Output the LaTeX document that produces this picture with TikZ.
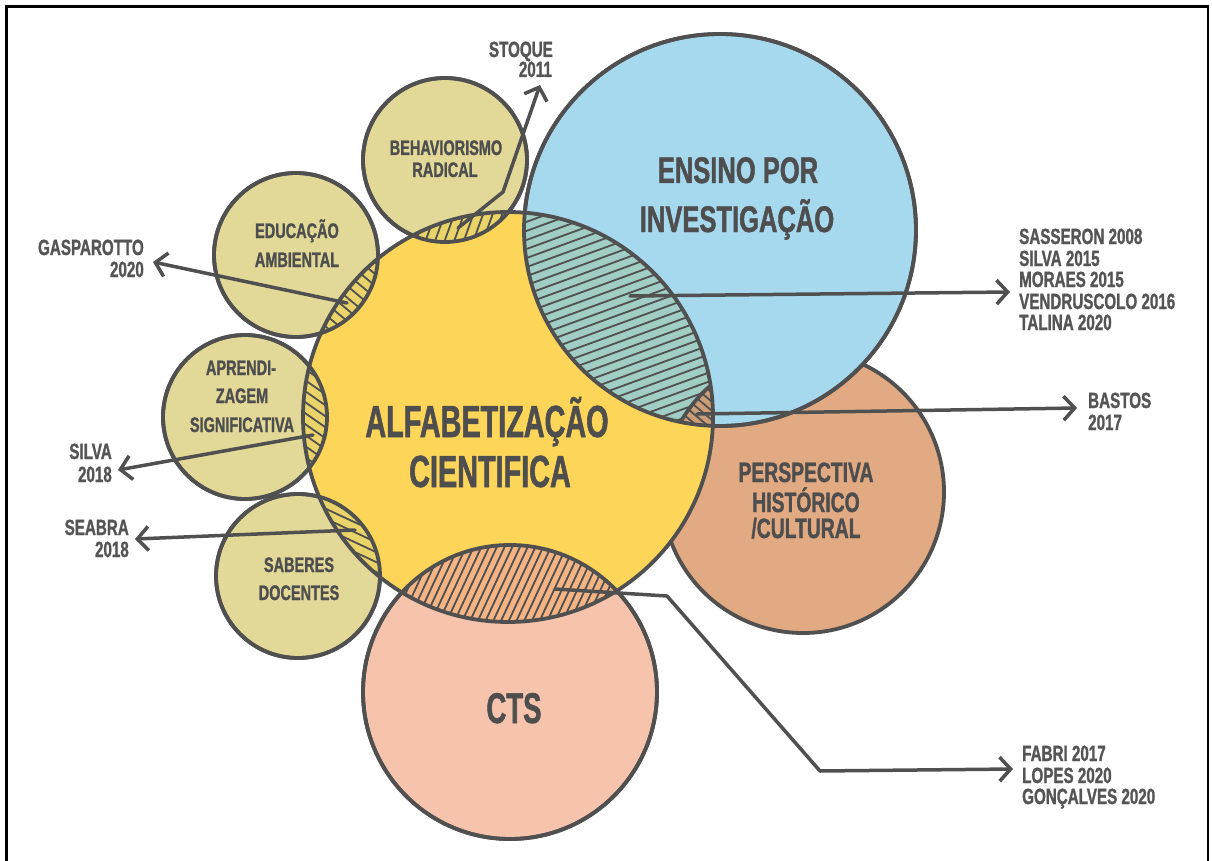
\documentclass[tikz,border=0pt]{standalone}
\usepackage{fontspec}
\newfontfamily\cf{Liberation Sans}[FakeStretch=0.64, FakeBold=1.2]
\newfontfamily\cfs{Liberation Sans}[FakeStretch=0.69, FakeBold=1.2]
\usetikzlibrary{arrows.meta}
\definecolor{outl}{RGB}{80,80,80}
\definecolor{txt}{RGB}{78,78,78}
\definecolor{reftxt}{RGB}{85,85,85}
\definecolor{yel}{RGB}{253,214,89}
\definecolor{beige}{RGB}{226,216,152}
\definecolor{sky}{RGB}{166,216,238}
\definecolor{persp}{RGB}{226,170,130}
\definecolor{ctsc}{RGB}{246,196,172}
\definecolor{lensy}{RGB}{234,212,105}
\definecolor{lensg}{RGB}{160,206,196}
\definecolor{lensc}{RGB}{244,180,132}
\definecolor{lensb}{RGB}{204,158,118}
\newcommand\hatchfill[6]{%
  \fill[#5] (#1-400,#2-400) rectangle (#1+400,#2+400);
  \foreach \i in {-50,...,50}{
    \draw[hl] ({#1+\i*#4*sin(#3)-#6*cos(#3)},{#2+\i*#4*cos(#3)+#6*sin(#3)}) -- ++({2*#6*cos(#3)},{-2*#6*sin(#3)});
  }}
\tikzset{
  circ/.style={draw=outl, line width=3.8pt},
  hl/.style={draw=outl, line width=1.8pt},
  arr/.style={draw=outl, line width=3.5pt, line cap=round, line join=round, -{Straight Barb[length=11pt,width=24pt]}},
  lab/.style={text=txt, inner sep=0pt, anchor=base},
  reflab/.style={text=reftxt, inner sep=0pt, font=\cfs\bfseries\fontsize{22}{22}\selectfont},
  hugefont/.style={font=\cf\bfseries\fontsize{45}{45}\selectfont},
  bigfont/.style={font=\cfs\bfseries\fontsize{37}{37}\selectfont},
  midfont/.style={font=\cfs\bfseries\fontsize{28}{28}\selectfont},
  smallfont/.style={font=\cfs\bfseries\fontsize{21}{21}\selectfont}
}
\begin{document}
\begin{tikzpicture}[x=1pt,y=-1pt]
\useasboundingbox (0,0) rectangle (1212,861);
\clip (0,0) rectangle (1212,861);
\fill[white] (0,0) rectangle (1212,861);
\draw[black, line width=2.6pt] (6.5,6.5) rectangle (1208,900);

% centres
\coordinate (Y) at (508,417);
\coordinate (B) at (720,230);
\coordinate (P) at (803,492);
\coordinate (C) at (510,692);
\coordinate (S1) at (445,160);
\coordinate (S2) at (296,255);
\coordinate (S3) at (245,417);
\coordinate (S4) at (298,576);

% fills
\draw[circ, fill=persp] (P) circle (141pt);
\draw[circ, fill=sky] (B) circle (196pt);
\draw[circ, fill=ctsc] (C) circle (147pt);
\foreach \s in {S1,S2,S3,S4} \draw[circ, fill=beige] (\s) circle (82pt);
\fill[yel] (Y) circle (205pt);

% hatched lenses
\begin{scope}\clip (Y) circle (205pt); \clip (S1) circle (82pt);
  \hatchfill{460}{225}{70}{9}{lensy}{150}\end{scope}
\begin{scope}\clip (Y) circle (205pt); \clip (S2) circle (82pt);
  \hatchfill{350}{300}{-40}{9}{lensy}{150}\end{scope}
\begin{scope}\clip (Y) circle (205pt); \clip (S3) circle (82pt);
  \hatchfill{315}{420}{-35}{9}{lensy}{150}\end{scope}
\begin{scope}\clip (Y) circle (205pt); \clip (S4) circle (82pt);
  \hatchfill{350}{530}{-25}{9}{lensy}{150}\end{scope}
\begin{scope}\clip (Y) circle (205pt); \clip (B) circle (196pt);
  \hatchfill{610}{300}{20}{8.5}{lensg}{350}\end{scope}
\begin{scope}\clip (Y) circle (205pt); \clip (B) circle (196pt); \clip (P) circle (141pt);
  \hatchfill{700}{410}{-40}{7}{lensb}{120}\end{scope}
\begin{scope}\clip (Y) circle (205pt); \clip (B) circle (196pt);
  \draw[circ] (P) circle (141pt);\end{scope}
\begin{scope}\clip (Y) circle (205pt); \clip (C) circle (147pt);
  \hatchfill{510}{585}{65}{7}{lensc}{250}\end{scope}

% outlines
\draw[circ] (B) circle (196pt);
\draw[circ] (C) circle (147pt);
\foreach \s in {S1,S2,S3,S4} \draw[circ] (\s) circle (82pt);
\draw[circ] (Y) circle (205pt);

% circle labels
\node[lab, bigfont] (ens1) at (738,183) {ENSINO POR};
\node[lab, bigfont] (ens2) at (737,232) {INVESTIGAÇÃO};
\node[lab, hugefont] (alf1) at (487,437) {ALFABETIZAÇÃO};
\node[lab, hugefont] (alf2) at (490,487) {CIENTIFICA};
\node[lab, font=\cf\bfseries\fontsize{43}{43}\selectfont] (cts) at (514,723) {CTS};
\node[lab, midfont] (per1) at (806,482) {PERSPECTIVA};
\node[lab, midfont] (per2) at (806,512) {HISTÓRICO};
\node[lab, midfont] (per3) at (806,538) {/CULTURAL};
\node[lab, smallfont] (beh1) at (446,155) {BEHAVIORISMO};
\node[lab, smallfont] (beh2) at (445,177) {RADICAL};
\node[lab, smallfont] (edu1) at (297,238) {EDUCAÇÃO};
\node[lab, smallfont] (edu2) at (297,267) {AMBIENTAL};
\node[lab, smallfont] (apr1) at (241,375) {APRENDI-};
\node[lab, smallfont] (apr2) at (242,403) {ZAGEM};
\node[lab, smallfont] (apr3) at (242,432) {SIGNIFICATIVA};
\node[lab, smallfont] (sab1) at (299,572) {SABERES};
\node[lab, smallfont] (sab2) at (299,600) {DOCENTES};

% reference labels
\node[reflab, anchor=base east] (sto1) at (553,57) {STOQUE};
\node[reflab, anchor=base east] (sto2) at (552,77) {2011};
\node[reflab, anchor=base east] (gas1) at (144,255) {GASPAROTTO};
\node[reflab, anchor=base east] (gas2) at (144,277) {2020};
\node[reflab, anchor=base east] (sil1) at (112,459) {SILVA};
\node[reflab, anchor=base east] (sil2) at (112,482) {2018};
\node[reflab, anchor=base east] (sea1) at (129,535) {SEABRA};
\node[reflab, anchor=base east] (sea2) at (129,557) {2018};
\node[reflab, anchor=base west] (ref1) at (1019,244) {SASSERON 2008};
\node[reflab, anchor=base west] (ref2) at (1019,266) {SILVA 2015};
\node[reflab, anchor=base west] (ref3) at (1019,287) {MORAES 2015};
\node[reflab, anchor=base west] (ref4) at (1019,309) {VENDRUSCOLO 2016};
\node[reflab, anchor=base west] (ref5) at (1019,330) {TALINA 2020};
\node[reflab, anchor=base west] (bas1) at (1088,408) {BASTOS};
\node[reflab, anchor=base west] (bas2) at (1088,430) {2017};
\node[reflab, anchor=base west] (fab1) at (1022,761) {FABRI 2017};
\node[reflab, anchor=base west] (fab2) at (1022,783) {LOPES 2020};
\node[reflab, anchor=base west] (fab3) at (1022,804) {GONÇALVES 2020};

% arrow end points
\coordinate (aSto0) at (458,228); \coordinate (aSto1) at (503,192); \coordinate (aSto2) at (540,85);
\coordinate (aGas0) at (347,303); \coordinate (aGas1) at (153,262);
\coordinate (aSil0) at (313,435); \coordinate (aSil1) at (118,470);
\coordinate (aSea0) at (355,530); \coordinate (aSea1) at (135,539);
\coordinate (aSas0) at (630,296); \coordinate (aSas1) at (1010,292);
\coordinate (aBas0) at (697,414); \coordinate (aBas1) at (1077,408);
\coordinate (aCts0) at (555,589); \coordinate (aCts1) at (667,596); \coordinate (aCts2) at (820,771); \coordinate (aCts3) at (1013,769);

\draw[arr] (aSto0) -- (aSto1) -- (aSto2);
\draw[arr] (aGas0) -- (aGas1);
\draw[arr] (aSil0) -- (aSil1);
\draw[arr] (aSea0) -- (aSea1);
\draw[arr] (aSas0) -- (aSas1);
\draw[arr] (aBas0) -- (aBas1);
\draw[arr] (aCts0) -- (aCts1) -- (aCts2) -- (aCts3);
\end{tikzpicture}
\end{document}
